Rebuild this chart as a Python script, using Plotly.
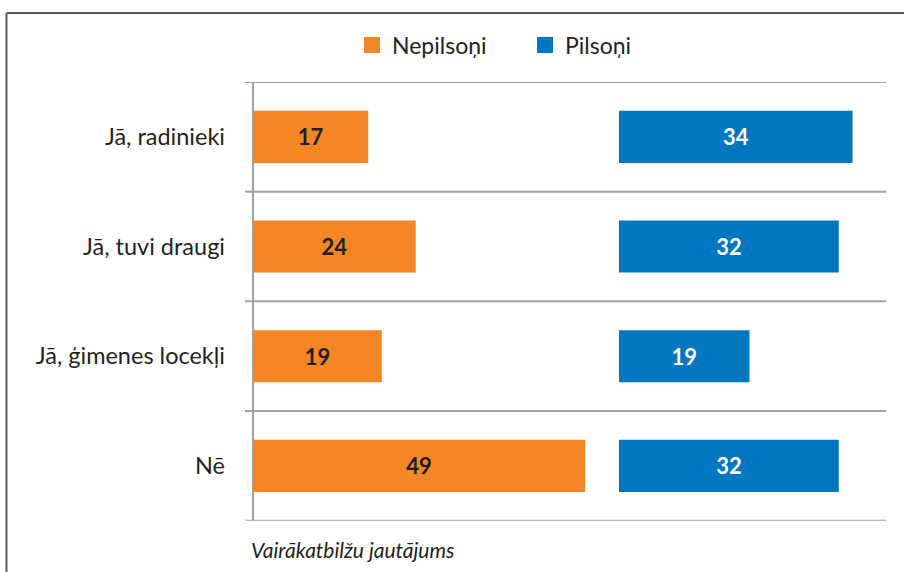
import plotly.graph_objects as go

categories = ["Jā, radinieki", "Jā, tuvi draugi", "Jā, ģimenes locekļi", "Nē"]
nepilsoni = [17, 24, 19, 49]
pilsoni = [34, 32, 19, 32]
series_names = ["Nepilsoņi", "Pilsoņi"]
subtitle = "Vairākatbilžu jautājums"

ORANGE = "#F58626"
BLUE = "#0077C0"
GRID = "#A0A0A0"
FRAME = "#5A5A5A"
TEXT = "#231F20"
W, H = 904, 572
FONT = "Lato"

def px(x):
    return x / W

def py(y):
    return 1 - y / H

fig = go.Figure()

fig.add_trace(go.Bar(
    y=categories, x=nepilsoni, orientation="h", xaxis="x", yaxis="y",
    marker=dict(color=ORANGE, line=dict(width=0)), width=0.475,
    text=[str(v) for v in nepilsoni], textposition="inside",
    insidetextanchor="middle",
    textfont=dict(family=FONT, size=22, color=TEXT, weight="bold"),
    showlegend=False, hoverinfo="skip",
))
fig.add_trace(go.Bar(
    y=categories, x=pilsoni, orientation="h", xaxis="x2", yaxis="y",
    marker=dict(color=BLUE, line=dict(width=0)), width=0.475,
    text=[str(v) for v in pilsoni], textposition="inside",
    insidetextanchor="middle",
    textfont=dict(family=FONT, size=22, color="white", weight="bold"),
    showlegend=False, hoverinfo="skip",
))

# legend entries
for name, col in zip(series_names, [ORANGE, BLUE]):
    fig.add_trace(go.Scatter(
        x=[None], y=[None], mode="markers", name=name,
        marker=dict(symbol="square", size=18, color=col),
        xaxis="x", yaxis="y",
    ))

shapes = []
# category separator lines
for i in range(len(categories) + 1):
    shapes.append(dict(type="line", xref="paper", yref="y",
                       x0=px(245), x1=px(886), y0=i - 0.5, y1=i - 0.5,
                       line=dict(color=GRID, width=2), layer="below"))
# left axis line
shapes.append(dict(type="line", xref="paper", yref="y",
                   x0=px(253), x1=px(253), y0=-0.5, y1=len(categories) - 0.5,
                   line=dict(color=GRID, width=2), layer="below"))
# frame (top and left)
shapes.append(dict(type="line", xref="paper", yref="paper",
                   x0=px(6.5), x1=1.01, y0=py(13), y1=py(13),
                   line=dict(color=FRAME, width=2)))
shapes.append(dict(type="line", xref="paper", yref="paper",
                   x0=px(6.5), x1=px(6.5), y0=py(13), y1=-0.01,
                   line=dict(color=FRAME, width=2)))

fig.update_layout(
    width=W, height=H,
    margin=dict(l=0, r=0, t=0, b=0),
    paper_bgcolor="white", plot_bgcolor="rgba(0,0,0,0)",
    font=dict(family=FONT, size=23, color=TEXT),
    barmode="overlay",
    xaxis=dict(domain=[px(253), px(592)], range=[0, 50], visible=False, fixedrange=True),
    xaxis2=dict(domain=[px(619), px(880)], range=[0, 38], visible=False, fixedrange=True, anchor="y"),
    yaxis=dict(domain=[py(520.7), py(82)], range=[len(categories) - 0.5, -0.5],
               type="category", showgrid=False, zeroline=False, showline=False,
               ticks="", ticklabelstandoff=27, tickfont=dict(family=FONT, size=23.5, color=TEXT),
               anchor="x", fixedrange=True),
    legend=dict(orientation="h", x=px(352), xanchor="left", y=py(45), yanchor="middle",
                font=dict(family=FONT, size=23, color=TEXT),
                itemwidth=30, entrywidth=128, entrywidthmode="pixels",
                tracegroupgap=0, bgcolor="rgba(0,0,0,0)",
                itemclick=False, itemdoubleclick=False),
    shapes=shapes,
    annotations=[dict(text=subtitle, xref="paper", yref="paper", x=px(249), y=py(549),
                      xanchor="left", yanchor="middle", showarrow=False,
                      font=dict(family=FONT, size=21, color=TEXT, style="italic"))],
)

fig.write_html("out.html", config={"displayModeBar": False},
               post_script="document.body.style.margin='0';document.body.style.padding='0';")
